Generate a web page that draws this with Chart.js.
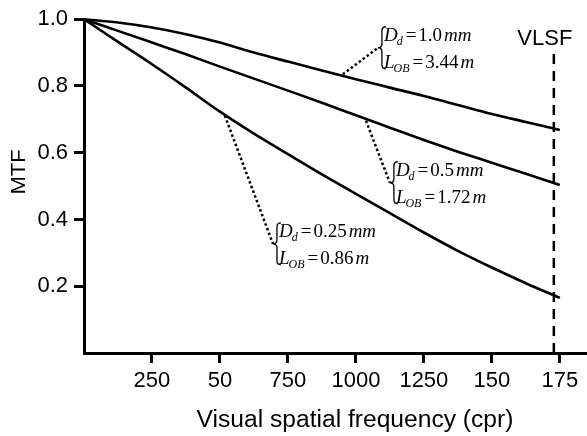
<!DOCTYPE html>
<html>
<head>
<meta charset="utf-8">
<script src="https://cdn.jsdelivr.net/npm/chart.js@4/dist/chart.umd.min.js"></script>
<style>
  body { margin: 0; background: #fff; }
  #wrap { width: 587px; height: 436px; }
</style>
</head>
<body>
<div id="wrap"><canvas id="mtfChart" width="587" height="436"></canvas></div>
<script>
// values
const freq = [0, 12.5, 25, 37.5, 50, 62.5, 75, 87.5, 100, 112.5, 125, 137.5, 150, 162.5, 175];
const mtf10mm = [1.0, 0.99, 0.975, 0.955, 0.93, 0.90, 0.873, 0.846, 0.82, 0.795, 0.77, 0.743, 0.716, 0.692, 0.668];
const mtf05mm = [1.0, 0.965, 0.93, 0.895, 0.858, 0.822, 0.786, 0.75, 0.712, 0.675, 0.638, 0.603, 0.57, 0.537, 0.503];
const mtf025mm = [1.0, 0.932, 0.865, 0.795, 0.723, 0.657, 0.596, 0.535, 0.477, 0.419, 0.361, 0.306, 0.256, 0.209, 0.165];

const freqTicks = [25, 50, 75, 100, 125, 150, 175];
const freqTickLabels = ['250', '50', '750', '1000', '1250', '150', '175'];
const mtfTicks = [0.2, 0.4, 0.6, 0.8, 1.0];

const xTitle = 'Visual spatial frequency (cpr)';
const yTitle = 'MTF';

const vlsf = 172.8;
const vlsfTop = 0.915;

// annotation text and where each leader runs (curve point -> brace tip), data units
const notes = [
  { d: '1.0', dUnit: 'mm', l: '3.44', lUnit: 'm', from: [95.2, 0.835], tip: [108.1, 0.9145] },
  { d: '0.5', dUnit: 'mm', l: '1.72', lUnit: 'm', from: [103.7, 0.696], tip: [112.5, 0.51] },
  { d: '0.25', dUnit: 'mm', l: '0.86', lUnit: 'm', from: [51.8, 0.711], tip: [69.5, 0.327] }
];

function toXY(xs, ys) {
  return xs.map((x, i) => ({ x: x, y: ys[i] }));
}

const curveStyle = {
  borderColor: '#000',
  borderWidth: 2.6,
  pointRadius: 0,
  fill: false,
  cubicInterpolationMode: 'monotone',
  clip: false
};

const datasets = [
  Object.assign({ label: 'Dd = 1.0 mm', data: toXY(freq, mtf10mm) }, curveStyle),
  Object.assign({ label: 'Dd = 0.5 mm', data: toXY(freq, mtf05mm) }, curveStyle),
  Object.assign({ label: 'Dd = 0.25 mm', data: toXY(freq, mtf025mm) }, curveStyle),
  {
    label: 'VLSF',
    data: [{ x: vlsf, y: 0 }, { x: vlsf, y: vlsfTop }],
    borderColor: '#000',
    borderWidth: 2.5,
    borderDash: [10, 7],
    pointRadius: 0,
    fill: false,
    clip: false
  }
];

notes.forEach(n => {
  datasets.push({
    label: 'leader',
    data: [{ x: n.from[0], y: n.from[1] }, { x: n.tip[0], y: n.tip[1] }],
    borderColor: '#000',
    borderWidth: 2.5,
    borderDash: [2.5, 2.5],
    pointRadius: 0,
    fill: false,
    clip: false
  });
});

function drawBrace(ctx, x, yTop, yBot, w) {
  const ym = (yTop + yBot) / 2;
  const mx = x + w / 2;
  const r = w / 2;
  ctx.beginPath();
  ctx.moveTo(x + w, yTop);
  ctx.quadraticCurveTo(mx, yTop, mx, yTop + r);
  ctx.lineTo(mx, ym - r);
  ctx.quadraticCurveTo(mx, ym, x, ym);
  ctx.quadraticCurveTo(mx, ym, mx, ym + r);
  ctx.lineTo(mx, yBot - r);
  ctx.quadraticCurveTo(mx, yBot, x + w, yBot);
  ctx.stroke();
}

function drawEq(ctx, x, y, sym, sub, num, unit) {
  const big = '19px "Liberation Serif"';
  const bigIt = 'italic 19px "Liberation Serif"';
  const small = 'italic 12px "Liberation Serif"';
  ctx.font = bigIt;
  ctx.fillText(sym, x, y);
  x += ctx.measureText(sym).width - 1;
  ctx.font = small;
  ctx.fillText(sub, x, y + 4);
  x += ctx.measureText(sub).width + 3;
  ctx.font = big;
  ctx.fillText('=', x, y);
  x += ctx.measureText('=').width + 2;
  ctx.fillText(num, x, y);
  x += ctx.measureText(num).width + 2;
  ctx.font = bigIt;
  ctx.fillText(unit, x, y);
}

function stretchedText(ctx, text, x, y, sx, rot) {
  ctx.save();
  ctx.translate(x, y);
  if (rot) ctx.rotate(rot);
  ctx.scale(sx, 1);
  ctx.fillText(text, 0, 0);
  ctx.restore();
}

const notesPlugin = {
  id: 'notes',
  afterDatasetsDraw(chart) {
    const ctx = chart.ctx;
    const xs = chart.scales.x, ys = chart.scales.y;
    ctx.save();
    ctx.fillStyle = '#000';
    ctx.strokeStyle = '#000';
    ctx.lineWidth = 1.3;
    ctx.textBaseline = 'alphabetic';
    ctx.textAlign = 'left';
    notes.forEach(n => {
      const px = xs.getPixelForValue(n.tip[0]);
      const py = ys.getPixelForValue(n.tip[1]);
      drawBrace(ctx, px, py - 21, py + 21, 8);
      drawEq(ctx, px + 6, py - 7, 'D', 'd', n.d, n.dUnit);
      drawEq(ctx, px + 6, py + 20, 'L', 'OB', n.l, n.lUnit);
    });
    // VLSF label
    ctx.font = '22px "Liberation Sans"';
    ctx.textAlign = 'center';
    ctx.fillText('VLSF', xs.getPixelForValue(vlsf) - 9, ys.getPixelForValue(vlsfTop) - 3);

    // axis titles
    ctx.font = '23px "Liberation Sans"';
    ctx.textBaseline = 'middle';
    stretchedText(ctx, xTitle, 355, 421, 1.07, 0);
    ctx.font = '20px "Liberation Sans"';
    stretchedText(ctx, yTitle, 19, 172, 1.1, -Math.PI / 2);
    ctx.restore();
  }
};

const ctx = document.getElementById('mtfChart').getContext('2d');
const chart = new Chart(ctx, {
  type: 'line',
  data: { datasets: datasets },
  options: {
    responsive: false,
    animation: false,
    devicePixelRatio: 1,
    layout: { padding: { top: 14, right: 0, left: 0, bottom: 0 } },
    plugins: { legend: { display: false }, tooltip: { enabled: false } },
    scales: {
      x: {
        type: 'linear',
        min: 0,
        max: 185,
        afterBuildTicks: s => { s.ticks = freqTicks.map(v => ({ value: v })); },
        afterFit: s => { s.height = 83; },
        border: { color: '#000', width: 3 },
        grid: { drawOnChartArea: false, drawTicks: true, tickLength: 10, tickWidth: 3, tickColor: '#000' },
        ticks: {
          color: '#000',
          padding: 5,
          maxRotation: 0,
          font: { family: 'Liberation Sans', size: 22 },
          callback: v => freqTickLabels[freqTicks.indexOf(v)]
        }
      },
      y: {
        type: 'linear',
        min: 0,
        max: 1.0,
        afterBuildTicks: s => { s.ticks = mtfTicks.map(v => ({ value: v })); },
        afterFit: s => { s.width = 84; },
        border: { color: '#000', width: 3 },
        grid: { drawOnChartArea: false, drawTicks: true, tickLength: 10, tickWidth: 3, tickColor: '#000' },
        ticks: {
          color: '#000',
          padding: 6,
          font: { family: 'Liberation Sans', size: 22 },
          callback: v => v.toFixed(1)
        }
      }
    }
  },
  plugins: [notesPlugin]
});
</script>
</body>
</html>
